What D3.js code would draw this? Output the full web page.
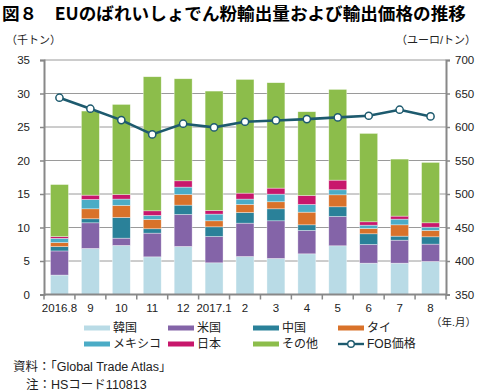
<!DOCTYPE html>
<html><head><meta charset="utf-8">
<script src="https://cdn.jsdelivr.net/npm/d3@7"></script>
<style>body{margin:0;background:#fff}svg{font-family:"Liberation Sans","Noto Sans CJK JP",sans-serif}</style>
</head><body><svg id="c" width="477" height="392"></svg>
<script>
const categories = ["2016.8","9","10","11","12","2017.1","2","3","4","5","6","7","8"];
const korea  = [2.9,6.87,7.32,5.62,7.17,4.73,5.67,5.38,6.07,7.27,4.68,4.68,4.93];
const usa    = [3.6,3.83,1.09,3.54,4.78,3.93,4.98,5.62,3.49,4.38,2.79,3.43,2.59];
const china  = [0.65,0.6,3.09,0.65,1.39,1.44,1.59,1.79,0.84,1.44,1.59,0.6,1.09];
const thai   = [0.6,1.49,1.79,1.39,1.59,0.9,1.2,1.05,1.89,1.79,0.8,1.69,0.95];
const mexico = [0.64,1.4,0.95,0.6,1.1,1.0,0.8,1.14,1.15,0.75,0.49,0.85,0.49];
const japan  = [0.25,0.64,0.69,0.69,0.94,0.54,0.89,0.9,1.34,1.44,0.5,0.45,0.65];
const other  = [7.77,12.55,13.44,20.01,15.23,17.82,16.97,15.73,12.5,13.54,13.19,8.51,9.01];
const fob    = [643.7,627.3,610.3,588.9,604.9,599.4,607.8,609.8,611.8,614.3,616.8,625.8,615.8];
const leftTicks = [0,5,10,15,20,25,30,35];
const rightTicks = [350,400,450,500,550,600,650,700];
const seriesNames = ["韓国","米国","中国","タイ","メキシコ","日本","その他"];
const seriesColors = ["#b9dbe6","#8464a8","#2a8199","#d9722a","#4bacc6","#c8176c","#8cbd4b"];
const lineColor = "#1d5a6e";

const svg = d3.select("#c");
const L=44, R=446, T=60, B=294.5;
const x = d3.scaleBand().domain(categories).range([L,R]).paddingInner(0.42).paddingOuter(0.21);
const y = d3.scaleLinear().domain([0,35]).range([B,T]);
const y2 = d3.scaleLinear().domain([350,700]).range([B,T]);
const jp = "'Liberation Sans','Noto Sans CJK JP',sans-serif";

// title
svg.append("text").attr("x",2).attr("y",20).attr("font-size",17.6).attr("font-weight","bold")
  .attr("font-family","'Noto Sans CJK JP',sans-serif").text("図８　EUのばれいしょでん粉輸出量および輸出価格の推移");
svg.append("text").attr("x",6).attr("y",44).attr("font-size",11).attr("fill","#222")
  .attr("font-family",jp).text("（千トン）");
svg.append("text").attr("x",476).attr("y",44).attr("font-size",11).attr("fill","#222").attr("text-anchor","end")
  .attr("font-family",jp).text("（ユーロ/トン）");

// grid
svg.append("g").selectAll("line").data(leftTicks.slice(1)).join("line")
  .attr("x1",L).attr("x2",R).attr("y1",d=>y(d)).attr("y2",d=>y(d))
  .attr("stroke","#9a9a9a").attr("stroke-width",1);

// bars
const data = categories.map((c,i)=>({cat:c,vals:[korea[i],usa[i],china[i],thai[i],mexico[i],japan[i],other[i]]}));
const keys = seriesNames.map((n,i)=>i);
const stack = d3.stack().keys(keys).value((d,k)=>d.vals[k]);
const stacked = stack(data);
svg.append("g").selectAll("g").data(stacked).join("g").attr("fill",(d,i)=>seriesColors[i])
  .selectAll("rect").data(d=>d).join("rect")
  .attr("x",d=>x(d.data.cat)).attr("width",x.bandwidth())
  .attr("y",d=>y(d[1])).attr("height",d=>y(d[0])-y(d[1]))
  .attr("stroke","rgba(255,255,255,0.6)").attr("stroke-width",0.6);

// axes
const axL = d3.axisLeft(y).tickValues(leftTicks).tickSize(4).tickPadding(10);
const gL = svg.append("g").attr("transform",`translate(${L},0)`).call(axL);
const axR = d3.axisRight(y2).tickValues(rightTicks).tickSize(4).tickPadding(5);
const gR = svg.append("g").attr("transform",`translate(${R},0)`).call(axR);
[gL,gR].forEach(g=>{g.select(".domain").attr("stroke","#888").attr("stroke-width",2);
  g.selectAll(".tick line").attr("stroke","#888").attr("stroke-width",1.5);
  g.selectAll(".tick text").attr("font-size",11.5).attr("fill","#222").attr("font-family","'Liberation Sans',Arial,sans-serif");});

const gX = svg.append("g").attr("transform",`translate(0,${B})`);
gX.append("line").attr("x1",L).attr("x2",R).attr("stroke","#888").attr("stroke-width",2);
const bounds = categories.map((c,i)=>L+i*(R-L)/categories.length).concat([R]);
gX.selectAll("line.t").data(bounds).join("line").attr("class","t")
  .attr("x1",d=>d).attr("x2",d=>d).attr("y1",0).attr("y2",5).attr("stroke","#888").attr("stroke-width",1.5);
gX.selectAll("text").data(categories).join("text")
  .attr("x",d=>x(d)+x.bandwidth()/2).attr("y",17).attr("text-anchor","middle")
  .attr("font-size",11.5).attr("fill","#222").text(d=>d);
svg.append("text").attr("x",476).attr("y",326).attr("text-anchor","end").attr("font-size",10.5)
  .attr("fill","#222").attr("font-family",jp).text("（年.月）");

// line
const line = d3.line().x((d,i)=>x(categories[i])+x.bandwidth()/2).y(d=>y2(d));
svg.append("path").datum(fob).attr("d",line).attr("fill","none").attr("stroke",lineColor).attr("stroke-width",2.6);
svg.append("g").selectAll("circle").data(fob).join("circle")
  .attr("cx",(d,i)=>x(categories[i])+x.bandwidth()/2).attr("cy",d=>y2(d)).attr("r",3.6)
  .attr("fill","#fff").attr("stroke",lineColor).attr("stroke-width",1.5);

// legend
const legX=[84,168,253,338], legY=[328,344];
const legItems = seriesNames.map((n,i)=>({name:n,color:seriesColors[i],type:"bar"})).concat([{name:"FOB価格",color:lineColor,type:"line"}]);
legItems.forEach((it,i)=>{
  const lx=legX[i%4], ly=legY[Math.floor(i/4)];
  const g=svg.append("g");
  if(it.type==="bar"){
    g.append("rect").attr("x",lx).attr("y",ly-2.5).attr("width",26).attr("height",5).attr("fill",it.color);
  } else {
    g.append("line").attr("x1",lx).attr("x2",lx+26).attr("y1",ly).attr("y2",ly).attr("stroke",it.color).attr("stroke-width",2.4);
    g.append("circle").attr("cx",lx+13).attr("cy",ly).attr("r",3.3).attr("fill","#fff").attr("stroke",it.color).attr("stroke-width",1.4);
  }
  g.append("text").attr("x",lx+29).attr("y",ly+4.3).attr("font-size",12).attr("fill","#222")
    .attr("font-family",jp).text(it.name);
});

svg.append("text").attr("x",13).attr("y",371).attr("font-size",12.5).attr("fill","#222")
  .attr("font-family",jp).text("資料：「Global Trade Atlas」");
svg.append("text").attr("x",26).attr("y",389).attr("font-size",12.5).attr("fill","#222")
  .attr("font-family",jp).text("注：HSコード110813");
</script></body></html>
